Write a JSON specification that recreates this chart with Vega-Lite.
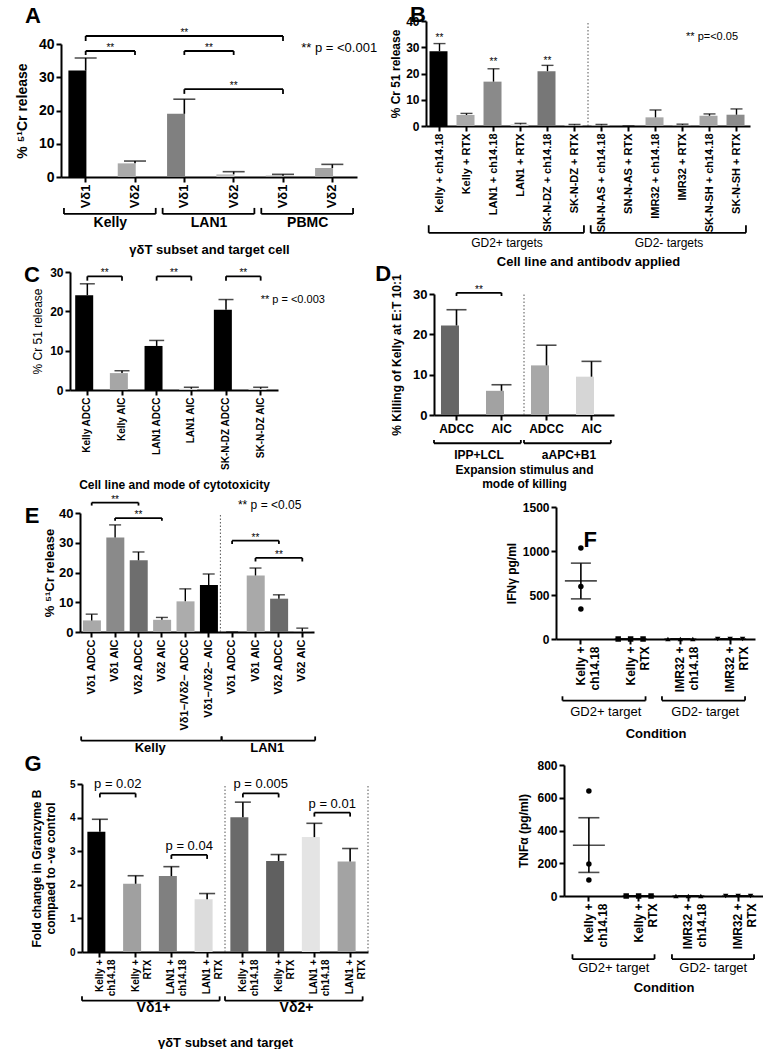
{
"$schema":"https://vega.github.io/schema/vega-lite/v6.json",
"padding":0,
"config":{
 "font":"Liberation Sans",
 "view":{"stroke":null},
 "mark":{"color":"#000"},
 "axis":{"grid":false,"domainColor":"#000","domainWidth":2,"tickColor":"#000","tickWidth":2,"tickSize":5,"labelColor":"#000","titleColor":"#000","labelFontWeight":"bold","titleFontWeight":"bold","labelPadding":2},
 "axisY":{"labelOverlap":false,"labelFlush":false,"tickCount":20},
 "text":{"color":"#000"}
},
"spacing":-10,
"resolve":{"scale":{"color":"independent","shape":"independent"}},
"vconcat":[
{"spacing":0,"resolve":{"scale":{"color":"independent","shape":"independent"}},"hconcat":[
{"width":296,"height":156,"layer":[
 {"data":{"values":[
  {"cat":"Kelly|Vδ1","v":32,"u":35.8},
  {"cat":"Kelly|Vδ2","v":4.1,"u":4.8},
  {"cat":"LAN1|Vδ1","v":19,"u":23.4},
  {"cat":"LAN1|Vδ2","v":0.8,"u":1.6},
  {"cat":"PBMC|Vδ1","v":0.4,"u":0.8},
  {"cat":"PBMC|Vδ2","v":2.7,"u":3.8}]},
  "layer":[
   {"mark":{"type":"bar","width":{"band":0.7}},"encoding":{
     "x":{"field":"cat","type":"nominal","scale":{"domain":["Kelly|Vδ1","Kelly|Vδ2","LAN1|Vδ1","LAN1|Vδ2","PBMC|Vδ1","PBMC|Vδ2"],"paddingInner":0,"paddingOuter":0},"axis":{"labelExpr":"split(datum.value,'|')[1]","labelAngle":-90,"labelFontSize":13,"title":"γδT subset and target cell","titleFontSize":13,"titlePadding":36}},
     "y":{"field":"v","type":"quantitative","scale":{"domain":[0,40],"nice":false,"range":[156,23]},"axis":{"values":[0,10,20,30,40],"tickCount":20,"labelOverlap":false,"labelFontSize":14,"title":"% ⁵¹Cr release","titleFontSize":14,"titlePadding":9}},
     "color":{"field":"cat","type":"nominal","scale":{"domain":["Kelly|Vδ1","Kelly|Vδ2","LAN1|Vδ1","LAN1|Vδ2","PBMC|Vδ1","PBMC|Vδ2"],"range":["#000000","#aaaaaa","#808080","#bdbdbd","#9a9a9a","#a4a4a4"]},"legend":null}}},
   {"mark":{"type":"rule","color":"#000","strokeWidth":1.6},"encoding":{"x":{"field":"cat","type":"nominal"},"y":{"field":"v","type":"quantitative"},"y2":{"field":"u"}}},
   {"mark":{"type":"tick","color":"#000","thickness":1.6,"size":22},"encoding":{"x":{"field":"cat","type":"nominal"},"y":{"field":"u","type":"quantitative"}}}
  ]},
 {"data":{"values":[
  {"a":"Kelly|Vδ1","b":"PBMC|Vδ1","m":"LAN1|Vδ1","y":42.4,"t":40.9,"edge":false},
  {"a":"Kelly|Vδ1","b":"Kelly|Vδ2","m":"Kelly|Vδ2","y":37.9,"t":36.7,"edge":true},
  {"a":"LAN1|Vδ1","b":"LAN1|Vδ2","m":"LAN1|Vδ2","y":37.9,"t":36.7,"edge":true},
  {"a":"LAN1|Vδ1","b":"PBMC|Vδ1","m":"LAN1|Vδ2","y":26.4,"t":25,"edge":false}]},
  "layer":[
   {"mark":{"type":"rule","color":"#000","strokeWidth":1.8},"encoding":{"x":{"field":"a","type":"nominal","bandPosition":0.5},"x2":{"field":"b","bandPosition":0.5},"y":{"field":"y","type":"quantitative"}}},
   {"mark":{"type":"rule","color":"#000","strokeWidth":1.8},"encoding":{"x":{"field":"a","type":"nominal","bandPosition":0.5},"y":{"field":"y","type":"quantitative"},"y2":{"field":"t"}}},
   {"mark":{"type":"rule","color":"#000","strokeWidth":1.8},"encoding":{"x":{"field":"b","type":"nominal","bandPosition":0.5},"y":{"field":"y","type":"quantitative"},"y2":{"field":"t"}}},
   {"transform":[{"filter":"datum.edge"}],"mark":{"type":"text","color":"#000","fontSize":10,"baseline":"alphabetic","align":"center"},"encoding":{"x":{"field":"m","type":"nominal","bandPosition":0},"y":{"field":"y","type":"quantitative"},"text":{"value":"**"}}},
   {"transform":[{"filter":"!datum.edge"}],"mark":{"type":"text","color":"#000","fontSize":10,"baseline":"alphabetic","align":"center"},"encoding":{"x":{"field":"m","type":"nominal","bandPosition":0.5},"y":{"field":"y","type":"quantitative"},"text":{"value":"**"}}}
  ]},
 {"data":{"values":[
  {"g":"Kelly","a":"Kelly|Vδ1","b":"Kelly|Vδ2"},
  {"g":"LAN1","a":"LAN1|Vδ1","b":"LAN1|Vδ2"},
  {"g":"PBMC","a":"PBMC|Vδ1","b":"PBMC|Vδ2"}]},
  "layer":[
   {"mark":{"type":"rule","color":"#000","strokeWidth":1.8},"encoding":{"x":{"field":"a","type":"nominal","bandPosition":0.06},"x2":{"field":"b","bandPosition":0.92},"y":{"datum":-11.1}}},
   {"mark":{"type":"rule","color":"#000","strokeWidth":1.8},"encoding":{"x":{"field":"a","type":"nominal","bandPosition":0.06},"y":{"datum":-11.1},"y2":{"datum":-9.3}}},
   {"mark":{"type":"rule","color":"#000","strokeWidth":1.8},"encoding":{"x":{"field":"b","type":"nominal","bandPosition":0.92},"y":{"datum":-11.1},"y2":{"datum":-9.3}}},
   {"mark":{"type":"text","color":"#000","fontSize":14,"fontWeight":"bold","baseline":"middle"},"encoding":{"x":{"field":"b","type":"nominal","bandPosition":0},"y":{"datum":-13.8},"text":{"field":"g"}}}
  ]},
 {"data":{"values":[{}]},
  "layer":[
   {"mark":{"type":"text","color":"#000","fontSize":22,"fontWeight":"bold","baseline":"middle"},"encoding":{"x":{"datum":"Kelly|Vδ1","type":"nominal","bandPosition":-0.57},"y":{"datum":48.4},"text":{"value":"A"}}},
   {"mark":{"type":"text","color":"#000","fontSize":13,"align":"left","baseline":"middle"},"encoding":{"x":{"datum":"PBMC|Vδ1","type":"nominal","bandPosition":0.87},"y":{"datum":38.8},"text":{"value":"** p = <0.001"}}},
   {"mark":{"type":"point","opacity":0,"size":1},"encoding":{"x":{"datum":"Kelly|Vδ1","type":"nominal","bandPosition":-1.216},"y":{"datum":52.93}}},
   {"mark":{"type":"point","opacity":0,"size":1},"encoding":{"x":{"datum":"Kelly|Vδ1","type":"nominal","bandPosition":-1.216},"y":{"datum":-27.67}}},
   {"mark":{"type":"point","opacity":0,"size":1},"encoding":{"x":{"datum":"Kelly|Vδ1","type":"nominal","bandPosition":6.608},"y":{"datum":52.93}}}
  ]}
]},
{"width":324,"height":105,"layer":[
 {"data":{"values":[
  {"cat":"Kelly + ch14.18","v":28.5,"u":31.4},
  {"cat":"Kelly + RTX","v":4.2,"u":4.8},
  {"cat":"LAN1 + ch14.18","v":16.9,"u":21.8},
  {"cat":"LAN1 + RTX","v":0.6,"u":1.0},
  {"cat":"SK-N-DZ + ch14.18","v":20.9,"u":23.1},
  {"cat":"SK-N-DZ + RTX","v":0.3,"u":0.6},
  {"cat":"SN-N-AS + ch14.18","v":0.3,"u":0.6},
  {"cat":"SN-N-AS + RTX","v":0,"u":0},
  {"cat":"IMR32 + ch14.18","v":3.3,"u":6.1},
  {"cat":"IMR32 + RTX","v":0.4,"u":0.7},
  {"cat":"SK-N-SH + ch14.18","v":3.9,"u":4.6},
  {"cat":"SK-N-SH + RTX","v":4.3,"u":6.5}]},
  "layer":[
   {"mark":{"type":"bar","width":{"band":0.74}},"encoding":{
     "x":{"field":"cat","type":"nominal","scale":{"domain":["Kelly + ch14.18","Kelly + RTX","LAN1 + ch14.18","LAN1 + RTX","SK-N-DZ + ch14.18","SK-N-DZ + RTX","SN-N-AS + ch14.18","SN-N-AS + RTX","IMR32 + ch14.18","IMR32 + RTX","SK-N-SH + ch14.18","SK-N-SH + RTX"],"paddingInner":0,"paddingOuter":0},"axis":{"labelAngle":-90,"labelFontSize":11,"title":"Cell line and antibodv applied","titleFontSize":13,"titlePadding":24}},
     "y":{"field":"v","type":"quantitative","scale":{"domain":[0,40],"nice":false},"axis":{"values":[0,10,20,30,40],"tickCount":20,"labelOverlap":false,"labelFontSize":12,"title":"% Cr 51 release","titleFontSize":12,"titlePadding":3}},
     "color":{"field":"cat","type":"nominal","scale":{"domain":["Kelly + ch14.18","Kelly + RTX","LAN1 + ch14.18","LAN1 + RTX","SK-N-DZ + ch14.18","SK-N-DZ + RTX","SN-N-AS + ch14.18","SN-N-AS + RTX","IMR32 + ch14.18","IMR32 + RTX","SK-N-SH + ch14.18","SK-N-SH + RTX"],"range":["#000000","#a9a9a9","#8a8a8a","#cccccc","#777777","#c8c8c8","#b5b5b5","#bbbbbb","#a8a8a8","#9a9a9a","#a6a6a6","#8c8c8c"]},"legend":null}}},
   {"mark":{"type":"rule","color":"#000","strokeWidth":1.4},"encoding":{"x":{"field":"cat","type":"nominal"},"y":{"field":"v","type":"quantitative"},"y2":{"field":"u"}}},
   {"mark":{"type":"tick","color":"#000","thickness":1.4,"size":12},"encoding":{"x":{"field":"cat","type":"nominal"},"y":{"field":"u","type":"quantitative"}}}
  ]},
 {"data":{"values":[
  {"c":"Kelly + ch14.18","y":32.3},
  {"c":"LAN1 + ch14.18","y":23.2},
  {"c":"SK-N-DZ + ch14.18","y":23.8}]},
  "mark":{"type":"text","color":"#000","fontSize":10,"baseline":"alphabetic","align":"center"},
  "encoding":{"x":{"field":"c","type":"nominal"},"y":{"field":"y","type":"quantitative"},"text":{"value":"**"}}},
 {"data":{"values":[
  {"g":"GD2+ targets","a":"Kelly + ch14.18","b":"SK-N-DZ + RTX","m":"LAN1 + RTX"},
  {"g":"GD2- targets","a":"SN-N-AS + ch14.18","b":"SK-N-SH + RTX","m":"IMR32 + RTX"}]},
  "layer":[
   {"mark":{"type":"rule","color":"#000","strokeWidth":1.8},"encoding":{"x":{"field":"a","type":"nominal","bandPosition":0.1},"x2":{"field":"b","bandPosition":0.85},"y":{"datum":-40.7}}},
   {"mark":{"type":"rule","color":"#000","strokeWidth":1.8},"encoding":{"x":{"field":"a","type":"nominal","bandPosition":0.1},"y":{"datum":-40.7},"y2":{"datum":-37.8}}},
   {"mark":{"type":"rule","color":"#000","strokeWidth":1.8},"encoding":{"x":{"field":"b","type":"nominal","bandPosition":0.85},"y":{"datum":-40.7},"y2":{"datum":-37.8}}},
   {"mark":{"type":"text","color":"#000","fontSize":12,"baseline":"middle"},"encoding":{"x":{"field":"m","type":"nominal","bandPosition":0},"y":{"datum":-44.5},"text":{"field":"g"}}}
  ]},
 {"data":{"values":[{}]},
  "layer":[
   {"mark":{"type":"rule","color":"#555","strokeWidth":1,"strokeDash":[1.5,2]},"encoding":{"x":{"datum":"SN-N-AS + ch14.18","type":"nominal","bandPosition":0},"y":{"datum":0},"y2":{"datum":40}}},
   {"mark":{"type":"text","color":"#000","fontSize":22,"fontWeight":"bold","baseline":"middle"},"encoding":{"x":{"datum":"Kelly + ch14.18","type":"nominal","bandPosition":-0.3},"y":{"datum":42.2},"text":{"value":"B"}}},
   {"mark":{"type":"text","color":"#000","fontSize":11,"align":"left","baseline":"middle"},"encoding":{"x":{"datum":"IMR32 + RTX","type":"nominal","bandPosition":0.63},"y":{"datum":34},"text":{"value":"** p=<0.05"}}},
   {"mark":{"type":"point","opacity":0,"size":1},"encoding":{"x":{"datum":"Kelly + ch14.18","type":"nominal","bandPosition":-1.37},"y":{"datum":47.62}}},
   {"mark":{"type":"point","opacity":0,"size":1},"encoding":{"x":{"datum":"Kelly + ch14.18","type":"nominal","bandPosition":-1.37},"y":{"datum":-54.48}}}
  ]}
]}
]},
{"spacing":0,"resolve":{"scale":{"color":"independent","shape":"independent"}},"hconcat":[
{"width":217,"height":118,"layer":[
 {"data":{"values":[
  {"cat":"Kelly ADCC","v":24.1,"u":27.0},
  {"cat":"Kelly AIC","v":4.3,"u":4.9},
  {"cat":"LAN1 ADCC","v":11.2,"u":12.6},
  {"cat":"LAN1 AIC","v":0.3,"u":0.7},
  {"cat":"SK-N-DZ ADCC","v":20.4,"u":23.0},
  {"cat":"SK-N-DZ AIC","v":0.3,"u":0.7}]},
  "layer":[
   {"mark":{"type":"bar","width":{"band":0.7}},"encoding":{
     "x":{"field":"cat","type":"nominal","scale":{"domain":["Kelly ADCC","Kelly AIC","LAN1 ADCC","LAN1 AIC","SK-N-DZ ADCC","SK-N-DZ AIC"],"paddingInner":0,"paddingOuter":0,"range":[9,217]},"axis":{"labelAngle":-90,"labelFontSize":10,"title":"Cell line and mode of cytotoxicity","titleFontSize":12,"titlePadding":10}},
     "y":{"field":"v","type":"quantitative","scale":{"domain":[0,30],"nice":false},"axis":{"offset":-9,"values":[0,10,20,30],"tickCount":20,"labelOverlap":false,"labelFontSize":12,"title":"% Cr 51 release","titleFontSize":12,"titleFontWeight":"normal","titlePadding":5}},
     "color":{"field":"cat","type":"nominal","scale":{"domain":["Kelly ADCC","Kelly AIC","LAN1 ADCC","LAN1 AIC","SK-N-DZ ADCC","SK-N-DZ AIC"],"range":["#000000","#a6a6a6","#000000","#cccccc","#000000","#cccccc"]},"legend":null}}},
   {"mark":{"type":"rule","color":"#000","strokeWidth":1.5},"encoding":{"x":{"field":"cat","type":"nominal"},"y":{"field":"v","type":"quantitative"},"y2":{"field":"u"}}},
   {"mark":{"type":"tick","color":"#000","thickness":1.5,"size":15},"encoding":{"x":{"field":"cat","type":"nominal"},"y":{"field":"u","type":"quantitative"}}}
  ]},
 {"data":{"values":[
  {"a":"Kelly ADCC","b":"Kelly AIC","y":28.9,"t":27.8},
  {"a":"LAN1 ADCC","b":"LAN1 AIC","y":28.9,"t":27.8},
  {"a":"SK-N-DZ ADCC","b":"SK-N-DZ AIC","y":28.9,"t":27.8}]},
  "layer":[
   {"mark":{"type":"rule","color":"#000","strokeWidth":1.8},"encoding":{"x":{"field":"a","type":"nominal","bandPosition":0.5},"x2":{"field":"b","bandPosition":0.5},"y":{"field":"y","type":"quantitative"}}},
   {"mark":{"type":"rule","color":"#000","strokeWidth":1.8},"encoding":{"x":{"field":"a","type":"nominal","bandPosition":0.5},"y":{"field":"y","type":"quantitative"},"y2":{"field":"t"}}},
   {"mark":{"type":"rule","color":"#000","strokeWidth":1.8},"encoding":{"x":{"field":"b","type":"nominal","bandPosition":0.5},"y":{"field":"y","type":"quantitative"},"y2":{"field":"t"}}},
   {"mark":{"type":"text","color":"#000","fontSize":10,"baseline":"alphabetic","align":"center"},"encoding":{"x":{"field":"b","type":"nominal","bandPosition":0},"y":{"field":"y","type":"quantitative"},"text":{"value":"**"}}}
  ]},
 {"data":{"values":[{}]},
  "layer":[
   {"mark":{"type":"text","color":"#000","fontSize":22,"fontWeight":"bold","baseline":"middle"},"encoding":{"x":{"datum":"Kelly ADCC","type":"nominal","bandPosition":-1.1},"y":{"datum":29.2},"text":{"value":"C"}}},
   {"mark":{"type":"text","color":"#000","fontSize":11,"align":"left","baseline":"middle"},"encoding":{"x":{"datum":"SK-N-DZ AIC","type":"nominal","bandPosition":0.5},"y":{"datum":22.9},"text":{"value":"** p = <0.003"}}},
   {"mark":{"type":"point","opacity":0,"size":1},"encoding":{"x":{"datum":"Kelly ADCC","type":"nominal","bandPosition":-1.99},"y":{"datum":32.8}}},
   {"mark":{"type":"point","opacity":0,"size":1},"encoding":{"x":{"datum":"Kelly ADCC","type":"nominal","bandPosition":-1.99},"y":{"datum":-27.7}}},
   {"mark":{"type":"point","opacity":0,"size":1},"encoding":{"x":{"datum":"Kelly ADCC","type":"nominal","bandPosition":8.624},"y":{"datum":32.8}}}
  ]}
]},
{"width":180,"height":143,"layer":[
 {"data":{"values":[
  {"cat":"IPP+LCL|ADCC","v":22.2,"u":26.1},
  {"cat":"IPP+LCL|AIC","v":6.0,"u":7.5},
  {"cat":"aAPC+B1|ADCC","v":12.3,"u":17.3},
  {"cat":"aAPC+B1|AIC","v":9.5,"u":13.3}]},
  "layer":[
   {"mark":{"type":"bar","width":{"band":0.69}},"encoding":{
     "x":{"field":"cat","type":"nominal","scale":{"domain":["IPP+LCL|ADCC","IPP+LCL|AIC","aAPC+B1|ADCC","aAPC+B1|AIC"],"paddingInner":0,"paddingOuter":0},"axis":{"labelExpr":"split(datum.value,'|')[1]","labelAngle":0,"labelFontSize":12,"labelPadding":3,"title":["Expansion stimulus and","mode of killing"],"titleFontSize":12,"titlePadding":30}},
     "y":{"field":"v","type":"quantitative","scale":{"domain":[0,30],"nice":false,"range":[143,22]},"axis":{"values":[0,10,20,30],"tickCount":20,"labelOverlap":false,"labelFontSize":13,"title":"% Killing of Kelly at E:T 10:1","titleFontSize":12,"titlePadding":9}},
     "color":{"field":"cat","type":"nominal","scale":{"domain":["IPP+LCL|ADCC","IPP+LCL|AIC","aAPC+B1|ADCC","aAPC+B1|AIC"],"range":["#666666","#a2a2a2","#a8a8a8","#d6d6d6"]},"legend":null}}},
   {"mark":{"type":"rule","color":"#000","strokeWidth":1.6},"encoding":{"x":{"field":"cat","type":"nominal"},"y":{"field":"v","type":"quantitative"},"y2":{"field":"u"}}},
   {"mark":{"type":"tick","color":"#000","thickness":1.6,"size":20},"encoding":{"x":{"field":"cat","type":"nominal"},"y":{"field":"u","type":"quantitative"}}}
  ]},
 {"data":{"values":[{"a":"IPP+LCL|ADCC","b":"IPP+LCL|AIC","y":30.3,"t":29.5}]},
  "layer":[
   {"mark":{"type":"rule","color":"#000","strokeWidth":1.8},"encoding":{"x":{"field":"a","type":"nominal","bandPosition":0.5},"x2":{"field":"b","bandPosition":0.5},"y":{"field":"y","type":"quantitative"}}},
   {"mark":{"type":"rule","color":"#000","strokeWidth":1.8},"encoding":{"x":{"field":"a","type":"nominal","bandPosition":0.5},"y":{"field":"y","type":"quantitative"},"y2":{"field":"t"}}},
   {"mark":{"type":"rule","color":"#000","strokeWidth":1.8},"encoding":{"x":{"field":"b","type":"nominal","bandPosition":0.5},"y":{"field":"y","type":"quantitative"},"y2":{"field":"t"}}},
   {"mark":{"type":"text","color":"#000","fontSize":10,"baseline":"alphabetic","align":"center"},"encoding":{"x":{"field":"b","type":"nominal","bandPosition":0},"y":{"field":"y","type":"quantitative"},"text":{"value":"**"}}}
  ]},
 {"data":{"values":[
  {"g":"IPP+LCL","a":"IPP+LCL|ADCC","b":"IPP+LCL|AIC"},
  {"g":"aAPC+B1","a":"aAPC+B1|ADCC","b":"aAPC+B1|AIC"}]},
  "layer":[
   {"mark":{"type":"rule","color":"#000","strokeWidth":1.8},"encoding":{"x":{"field":"a","type":"nominal","bandPosition":0.0},"x2":{"field":"b","bandPosition":0.93},"y":{"datum":-7.0}}},
   {"mark":{"type":"rule","color":"#000","strokeWidth":1.8},"encoding":{"x":{"field":"a","type":"nominal","bandPosition":0.0},"y":{"datum":-7.0},"y2":{"datum":-6.2}}},
   {"mark":{"type":"rule","color":"#000","strokeWidth":1.8},"encoding":{"x":{"field":"b","type":"nominal","bandPosition":0.93},"y":{"datum":-7.0},"y2":{"datum":-6.2}}},
   {"mark":{"type":"text","color":"#000","fontSize":12,"fontWeight":"bold","baseline":"middle"},"encoding":{"x":{"field":"b","type":"nominal","bandPosition":0},"y":{"datum":-9.8},"text":{"field":"g"}}}
  ]},
 {"data":{"values":[{}]},
  "layer":[
   {"mark":{"type":"rule","color":"#555","strokeWidth":1,"strokeDash":[1.5,2]},"encoding":{"x":{"datum":"aAPC+B1|ADCC","type":"nominal","bandPosition":0},"y":{"datum":0},"y2":{"datum":30}}},
   {"mark":{"type":"text","color":"#000","fontSize":22,"fontWeight":"bold","baseline":"middle"},"encoding":{"x":{"datum":"IPP+LCL|ADCC","type":"nominal","bandPosition":-1.13},"y":{"datum":35},"text":{"value":"D"}}},
   {"mark":{"type":"point","opacity":0,"size":1},"encoding":{"x":{"datum":"IPP+LCL|ADCC","type":"nominal","bandPosition":-1.393},"y":{"datum":38.18}}},
   {"mark":{"type":"point","opacity":0,"size":1},"encoding":{"x":{"datum":"IPP+LCL|ADCC","type":"nominal","bandPosition":-1.393},"y":{"datum":-20.83}}}
  ]}
]}
]},
{"spacing":0,"resolve":{"scale":{"color":"independent","shape":"independent"}},"hconcat":[
{"width":253,"height":125,"layer":[
 {"data":{"values":[
  {"cat":"Kelly|Vδ1 ADCC","v":3.9,"u":6.0},
  {"cat":"Kelly|Vδ1 AIC","v":31.8,"u":36.0},
  {"cat":"Kelly|Vδ2 ADCC","v":24.1,"u":26.9},
  {"cat":"Kelly|Vδ2 AIC","v":4.1,"u":4.9},
  {"cat":"Kelly|Vδ1−/Vδ2− ADCC","v":10.3,"u":14.5},
  {"cat":"Kelly|Vδ1−/Vδ2− AIC","v":15.8,"u":19.5},
  {"cat":"LAN1|Vδ1 ADCC","v":0,"u":0},
  {"cat":"LAN1|Vδ1 AIC","v":19.0,"u":21.5},
  {"cat":"LAN1|Vδ2 ADCC","v":11.2,"u":12.5},
  {"cat":"LAN1|Vδ2 AIC","v":0.2,"u":1.3}]},
  "layer":[
   {"mark":{"type":"bar","width":{"band":0.75}},"encoding":{
     "x":{"field":"cat","type":"nominal","scale":{"domain":["Kelly|Vδ1 ADCC","Kelly|Vδ1 AIC","Kelly|Vδ2 ADCC","Kelly|Vδ2 AIC","Kelly|Vδ1−/Vδ2− ADCC","Kelly|Vδ1−/Vδ2− AIC","LAN1|Vδ1 ADCC","LAN1|Vδ1 AIC","LAN1|Vδ2 ADCC","LAN1|Vδ2 AIC"],"paddingInner":0,"paddingOuter":0,"range":[19,253]},"axis":{"labelExpr":"split(datum.value,'|')[1]","labelAngle":-90,"labelFontSize":11,"title":null}},
     "y":{"field":"v","type":"quantitative","scale":{"domain":[0,40],"nice":false,"range":[125,6]},"axis":{"offset":-19,"values":[0,10,20,30,40],"tickCount":20,"labelOverlap":false,"labelFontSize":13,"title":"% ⁵¹Cr release","titleFontSize":13,"titlePadding":2}},
     "color":{"field":"cat","type":"nominal","scale":{"domain":["Kelly|Vδ1 ADCC","Kelly|Vδ1 AIC","Kelly|Vδ2 ADCC","Kelly|Vδ2 AIC","Kelly|Vδ1−/Vδ2− ADCC","Kelly|Vδ1−/Vδ2− AIC","LAN1|Vδ1 ADCC","LAN1|Vδ1 AIC","LAN1|Vδ2 ADCC","LAN1|Vδ2 AIC"],"range":["#a9a9a9","#8a8a8a","#6e6e6e","#a9a9a9","#acacac","#000000","#ffffff","#a9a9a9","#6b6b6b","#9a9a9a"]},"legend":null}}},
   {"mark":{"type":"rule","color":"#000","strokeWidth":1.4},"encoding":{"x":{"field":"cat","type":"nominal"},"y":{"field":"v","type":"quantitative"},"y2":{"field":"u"}}},
   {"mark":{"type":"tick","color":"#000","thickness":1.4,"size":12},"encoding":{"x":{"field":"cat","type":"nominal"},"y":{"field":"u","type":"quantitative"}}}
  ]},
 {"data":{"values":[
  {"a":"Kelly|Vδ1 ADCC","b":"Kelly|Vδ2 ADCC","m":"Kelly|Vδ1 AIC","y":43.5,"t":42.5},
  {"a":"Kelly|Vδ1 AIC","b":"Kelly|Vδ2 AIC","m":"Kelly|Vδ2 ADCC","y":38.3,"t":37.4},
  {"a":"LAN1|Vδ1 ADCC","b":"LAN1|Vδ2 ADCC","m":"LAN1|Vδ1 AIC","y":30.7,"t":29.6},
  {"a":"LAN1|Vδ1 AIC","b":"LAN1|Vδ2 AIC","m":"LAN1|Vδ2 ADCC","y":24.9,"t":23.7}]},
  "layer":[
   {"mark":{"type":"rule","color":"#000","strokeWidth":1.8},"encoding":{"x":{"field":"a","type":"nominal","bandPosition":0.5},"x2":{"field":"b","bandPosition":0.5},"y":{"field":"y","type":"quantitative"}}},
   {"mark":{"type":"rule","color":"#000","strokeWidth":1.8},"encoding":{"x":{"field":"a","type":"nominal","bandPosition":0.5},"y":{"field":"y","type":"quantitative"},"y2":{"field":"t"}}},
   {"mark":{"type":"rule","color":"#000","strokeWidth":1.8},"encoding":{"x":{"field":"b","type":"nominal","bandPosition":0.5},"y":{"field":"y","type":"quantitative"},"y2":{"field":"t"}}},
   {"mark":{"type":"text","color":"#000","fontSize":10,"baseline":"alphabetic","align":"center"},"encoding":{"x":{"field":"m","type":"nominal","bandPosition":0.5},"y":{"field":"y","type":"quantitative"},"text":{"value":"**"}}}
  ]},
 {"data":{"values":[
  {"g":"Kelly","a":"Kelly|Vδ1 ADCC","b":"Kelly|Vδ1−/Vδ2− AIC","m":"Kelly|Vδ2 AIC"},
  {"g":"LAN1","a":"LAN1|Vδ1 ADCC","b":"LAN1|Vδ2 AIC","m":"LAN1|Vδ2 ADCC"}]},
  "layer":[
   {"mark":{"type":"rule","color":"#000","strokeWidth":1.8},"encoding":{"x":{"field":"a","type":"nominal","bandPosition":0.05},"x2":{"field":"b","bandPosition":1.05},"y":{"datum":-36.5}}},
   {"mark":{"type":"rule","color":"#000","strokeWidth":1.8},"encoding":{"x":{"field":"a","type":"nominal","bandPosition":0.05},"y":{"datum":-36.5},"y2":{"datum":-35.1}}},
   {"mark":{"type":"rule","color":"#000","strokeWidth":1.8},"encoding":{"x":{"field":"b","type":"nominal","bandPosition":1.05},"y":{"datum":-36.5},"y2":{"datum":-35.1}}},
   {"mark":{"type":"text","color":"#000","fontSize":13,"fontWeight":"bold","baseline":"middle"},"encoding":{"x":{"field":"m","type":"nominal","bandPosition":0},"y":{"datum":-38.9},"text":{"field":"g"}}}
  ]},
 {"data":{"values":[{}]},
  "layer":[
   {"mark":{"type":"rule","color":"#555","strokeWidth":1,"strokeDash":[1.5,2]},"encoding":{"x":{"datum":"LAN1|Vδ1 ADCC","type":"nominal","bandPosition":0},"y":{"datum":0},"y2":{"datum":40}}},
   {"mark":{"type":"text","color":"#000","fontSize":22,"fontWeight":"bold","baseline":"middle"},"encoding":{"x":{"datum":"Kelly|Vδ1 ADCC","type":"nominal","bandPosition":-2.05},"y":{"datum":39.1},"text":{"value":"E"}}},
   {"mark":{"type":"text","color":"#000","fontSize":12,"align":"left","baseline":"middle"},"encoding":{"x":{"datum":"LAN1|Vδ1 ADCC","type":"nominal","bandPosition":0.75},"y":{"datum":42.8},"text":{"value":"** p = <0.05"}}},
   {"mark":{"type":"point","opacity":0,"size":1},"encoding":{"x":{"datum":"Kelly|Vδ1 ADCC","type":"nominal","bandPosition":-3.376},"y":{"datum":47.39}}},
   {"mark":{"type":"point","opacity":0,"size":1},"encoding":{"x":{"datum":"Kelly|Vδ1 ADCC","type":"nominal","bandPosition":-3.376},"y":{"datum":-43.03}}},
   {"mark":{"type":"point","opacity":0,"size":1},"encoding":{"x":{"datum":"Kelly|Vδ1 ADCC","type":"nominal","bandPosition":17.906},"y":{"datum":47.39}}}
  ]}
]},
{"width":199,"height":132,"layer":[
 {"data":{"values":[
  {"c":"Kelly + ch14.18","mean":660,"lo":456,"hi":862},
  {"c":"Kelly + RTX","mean":0,"lo":0,"hi":0},
  {"c":"IMR32 + ch14.18","mean":0,"lo":0,"hi":0},
  {"c":"IMR32 + RTX","mean":0,"lo":0,"hi":0}]},
  "layer":[
   {"mark":{"type":"tick","color":"#000","thickness":1.6,"size":32},"encoding":{
     "x":{"field":"c","type":"nominal","scale":{"domain":["Kelly + ch14.18","Kelly + RTX","IMR32 + ch14.18","IMR32 + RTX"],"paddingInner":0,"paddingOuter":0},"axis":{"labelExpr":"[split(datum.value,' + ')[0] + ' +', split(datum.value,' + ')[1]]","labelAngle":-90,"labelFontSize":12,"title":"Condition","titleFontSize":13,"titlePadding":36}},
     "y":{"field":"mean","type":"quantitative","scale":{"domain":[0,1500],"nice":false},"axis":{"values":[0,500,1000,1500],"tickCount":20,"labelOverlap":false,"format":"d","labelFontSize":12,"title":"IFNγ pg/ml","titleFontSize":12,"titlePadding":4}}}},
   {"mark":{"type":"rule","color":"#000","strokeWidth":1.6},"encoding":{"x":{"field":"c","type":"nominal"},"y":{"field":"lo","type":"quantitative"},"y2":{"field":"hi"}}},
   {"mark":{"type":"tick","color":"#000","thickness":1.6,"size":20},"encoding":{"x":{"field":"c","type":"nominal"},"y":{"field":"lo","type":"quantitative"}}},
   {"mark":{"type":"tick","color":"#000","thickness":1.6,"size":20},"encoding":{"x":{"field":"c","type":"nominal"},"y":{"field":"hi","type":"quantitative"}}}
  ]},
 {"data":{"values":[
  {"c":"Kelly + ch14.18","rep":1,"v":1033},
  {"c":"Kelly + ch14.18","rep":2,"v":596},
  {"c":"Kelly + ch14.18","rep":3,"v":342},
  {"c":"Kelly + RTX","rep":1,"v":0},
  {"c":"Kelly + RTX","rep":2,"v":0},
  {"c":"Kelly + RTX","rep":3,"v":0},
  {"c":"IMR32 + ch14.18","rep":1,"v":0},
  {"c":"IMR32 + ch14.18","rep":2,"v":0},
  {"c":"IMR32 + ch14.18","rep":3,"v":0},
  {"c":"IMR32 + RTX","rep":1,"v":0},
  {"c":"IMR32 + RTX","rep":2,"v":0},
  {"c":"IMR32 + RTX","rep":3,"v":0}]},
  "layer":[
   {"transform":[{"filter":"datum.c == 'Kelly + ch14.18'"}],"mark":{"type":"point","filled":true,"color":"#000","size":30,"opacity":1},"encoding":{"x":{"field":"c","type":"nominal"},"y":{"field":"v","type":"quantitative"},"shape":{"field":"c","type":"nominal","scale":{"domain":["Kelly + ch14.18","Kelly + RTX","IMR32 + ch14.18","IMR32 + RTX"],"range":["circle","square","triangle-up","triangle-down"]},"legend":null}}},
   {"transform":[{"filter":"datum.c != 'Kelly + ch14.18'"}],"mark":{"type":"point","filled":true,"color":"#000","size":30,"opacity":1},"encoding":{"x":{"field":"c","type":"nominal"},"xOffset":{"field":"rep","type":"nominal","scale":{"paddingInner":0,"paddingOuter":1.73}},"y":{"field":"v","type":"quantitative"},"shape":{"field":"c","type":"nominal","legend":null}}}
  ]},
 {"data":{"values":[
  {"g":"GD2+ target","a":"Kelly + ch14.18","b":"Kelly + RTX"},
  {"g":"GD2- target","a":"IMR32 + ch14.18","b":"IMR32 + RTX"}]},
  "layer":[
   {"mark":{"type":"rule","color":"#000","strokeWidth":1.8},"encoding":{"x":{"field":"a","type":"nominal","bandPosition":0.13},"x2":{"field":"b","bandPosition":0.8},"y":{"datum":-700}}},
   {"mark":{"type":"rule","color":"#000","strokeWidth":1.8},"encoding":{"x":{"field":"a","type":"nominal","bandPosition":0.13},"y":{"datum":-700},"y2":{"datum":-651}}},
   {"mark":{"type":"rule","color":"#000","strokeWidth":1.8},"encoding":{"x":{"field":"b","type":"nominal","bandPosition":0.8},"y":{"datum":-700},"y2":{"datum":-651}}},
   {"mark":{"type":"text","color":"#000","fontSize":13,"baseline":"middle"},"encoding":{"x":{"field":"b","type":"nominal","bandPosition":0},"y":{"datum":-835},"text":{"field":"g"}}}
  ]},
 {"data":{"values":[{}]},
  "layer":[
   {"mark":{"type":"text","color":"#000","fontSize":22,"fontWeight":"bold","baseline":"middle"},"encoding":{"x":{"datum":"Kelly + ch14.18","type":"nominal","bandPosition":0.69},"y":{"datum":1128},"text":{"value":"F"}}},
   {"mark":{"type":"point","opacity":0,"size":1},"encoding":{"x":{"datum":"Kelly + ch14.18","type":"nominal","bandPosition":-1.0995},"y":{"datum":1681.8}}},
   {"mark":{"type":"point","opacity":0,"size":1},"encoding":{"x":{"datum":"Kelly + ch14.18","type":"nominal","bandPosition":-1.0995},"y":{"datum":-1375}}}
  ]}
]}
]},
{"spacing":0,"resolve":{"scale":{"color":"independent","shape":"independent"}},"hconcat":[
{"width":307,"height":187,"layer":[
 {"data":{"values":[
  {"cat":"Vδ1+|Kelly + ch14.18","v":3.58,"u":3.95},
  {"cat":"Vδ1+|Kelly + RTX","v":2.03,"u":2.27},
  {"cat":"Vδ1+|LAN1 + ch14.18","v":2.26,"u":2.54},
  {"cat":"Vδ1+|LAN1 + RTX","v":1.57,"u":1.74},
  {"cat":"Vδ2+|Kelly + ch14.18","v":4.01,"u":4.46},
  {"cat":"Vδ2+|Kelly + RTX","v":2.71,"u":2.9},
  {"cat":"Vδ2+|LAN1 + ch14.18","v":3.42,"u":3.83},
  {"cat":"Vδ2+|LAN1 + RTX","v":2.69,"u":3.08}]},
  "layer":[
   {"mark":{"type":"bar","width":{"band":0.7}},"encoding":{
     "x":{"field":"cat","type":"nominal","scale":{"domain":["Vδ1+|Kelly + ch14.18","Vδ1+|Kelly + RTX","Vδ1+|LAN1 + ch14.18","Vδ1+|LAN1 + RTX","Vδ2+|Kelly + ch14.18","Vδ2+|Kelly + RTX","Vδ2+|LAN1 + ch14.18","Vδ2+|LAN1 + RTX"],"paddingInner":0,"paddingOuter":0,"range":[21,307]},"axis":{"labelExpr":"[split(split(datum.value,'|')[1],' + ')[0] + ' +', split(split(datum.value,'|')[1],' + ')[1]]","labelAngle":-90,"labelFontSize":10,"title":"γδT subset and target","titleFontSize":13,"titlePadding":41}},
     "y":{"field":"v","type":"quantitative","scale":{"domain":[0,5],"nice":false,"range":[187,19]},"axis":{"offset":-21,"values":[0,1,2,3,4,5],"format":"d","tickCount":20,"labelOverlap":false,"labelFontSize":10,"title":["Fold change in Granzyme B","compaed to -ve control"],"titleFontSize":12,"titlePadding":12}},
     "color":{"field":"cat","type":"nominal","scale":{"domain":["Vδ1+|Kelly + ch14.18","Vδ1+|Kelly + RTX","Vδ1+|LAN1 + ch14.18","Vδ1+|LAN1 + RTX","Vδ2+|Kelly + ch14.18","Vδ2+|Kelly + RTX","Vδ2+|LAN1 + ch14.18","Vδ2+|LAN1 + RTX"],"range":["#000000","#a0a0a0","#808080","#dcdcdc","#6a6a6a","#606060","#e4e4e4","#a3a3a3"]},"legend":null}}},
   {"mark":{"type":"rule","color":"#000","strokeWidth":1.6},"encoding":{"x":{"field":"cat","type":"nominal"},"y":{"field":"v","type":"quantitative"},"y2":{"field":"u"}}},
   {"mark":{"type":"tick","color":"#000","thickness":1.6,"size":16},"encoding":{"x":{"field":"cat","type":"nominal"},"y":{"field":"u","type":"quantitative"}}}
  ]},
 {"data":{"values":[
  {"a":"Vδ1+|Kelly + ch14.18","b":"Vδ1+|Kelly + RTX","y":4.72,"t":4.6,"p":"p = 0.02"},
  {"a":"Vδ1+|LAN1 + ch14.18","b":"Vδ1+|LAN1 + RTX","y":2.89,"t":2.77,"p":"p = 0.04"},
  {"a":"Vδ2+|Kelly + ch14.18","b":"Vδ2+|Kelly + RTX","y":4.72,"t":4.6,"p":"p = 0.005"},
  {"a":"Vδ2+|LAN1 + ch14.18","b":"Vδ2+|LAN1 + RTX","y":4.15,"t":4.03,"p":"p = 0.01"}]},
  "layer":[
   {"mark":{"type":"rule","color":"#000","strokeWidth":1.8},"encoding":{"x":{"field":"a","type":"nominal","bandPosition":0.5},"x2":{"field":"b","bandPosition":0.5},"y":{"field":"y","type":"quantitative"}}},
   {"mark":{"type":"rule","color":"#000","strokeWidth":1.8},"encoding":{"x":{"field":"a","type":"nominal","bandPosition":0.5},"y":{"field":"y","type":"quantitative"},"y2":{"field":"t"}}},
   {"mark":{"type":"rule","color":"#000","strokeWidth":1.8},"encoding":{"x":{"field":"b","type":"nominal","bandPosition":0.5},"y":{"field":"y","type":"quantitative"},"y2":{"field":"t"}}},
   {"mark":{"type":"text","color":"#000","fontSize":13,"baseline":"alphabetic","align":"center","dy":-5},"encoding":{"x":{"field":"b","type":"nominal","bandPosition":0},"y":{"field":"y","type":"quantitative"},"text":{"field":"p"}}}
  ]},
 {"data":{"values":[
  {"g":"Vδ1+","a":"Vδ1+|Kelly + ch14.18","b":"Vδ1+|LAN1 + RTX","m":"Vδ1+|LAN1 + ch14.18"},
  {"g":"Vδ2+","a":"Vδ2+|Kelly + ch14.18","b":"Vδ2+|LAN1 + RTX","m":"Vδ2+|LAN1 + ch14.18"}]},
  "layer":[
   {"mark":{"type":"rule","color":"#000","strokeWidth":1.8},"encoding":{"x":{"field":"a","type":"nominal","bandPosition":0.0},"x2":{"field":"b","bandPosition":0.85},"y":{"datum":-1.45}}},
   {"mark":{"type":"rule","color":"#000","strokeWidth":1.8},"encoding":{"x":{"field":"a","type":"nominal","bandPosition":0.0},"y":{"datum":-1.45},"y2":{"datum":-1.32}}},
   {"mark":{"type":"rule","color":"#000","strokeWidth":1.8},"encoding":{"x":{"field":"b","type":"nominal","bandPosition":0.85},"y":{"datum":-1.45},"y2":{"datum":-1.32}}},
   {"mark":{"type":"text","color":"#000","fontSize":14,"fontWeight":"bold","baseline":"middle"},"encoding":{"x":{"field":"m","type":"nominal","bandPosition":0},"y":{"datum":-1.68},"text":{"field":"g"}}}
  ]},
 {"data":{"values":[{}]},
  "layer":[
   {"mark":{"type":"rule","color":"#555","strokeWidth":1,"strokeDash":[1.5,2]},"encoding":{"x":{"datum":"Vδ2+|Kelly + ch14.18","type":"nominal","bandPosition":0},"y":{"datum":0},"y2":{"datum":5}}},
   {"mark":{"type":"rule","color":"#555","strokeWidth":1,"strokeDash":[1.5,2]},"encoding":{"x":{"datum":"Vδ2+|LAN1 + RTX","type":"nominal","bandPosition":1},"y":{"datum":0},"y2":{"datum":5}}},
   {"mark":{"type":"text","color":"#000","fontSize":22,"fontWeight":"bold","baseline":"middle"},"encoding":{"x":{"datum":"Vδ1+|Kelly + ch14.18","type":"nominal","bandPosition":-1.37},"y":{"datum":5.6},"text":{"value":"G"}}},
   {"mark":{"type":"point","opacity":0,"size":1},"encoding":{"x":{"datum":"Vδ1+|Kelly + ch14.18","type":"nominal","bandPosition":-2.266},"y":{"datum":5.952}}},
   {"mark":{"type":"point","opacity":0,"size":1},"encoding":{"x":{"datum":"Vδ1+|Kelly + ch14.18","type":"nominal","bandPosition":-2.266},"y":{"datum":-3.095}}},
   {"mark":{"type":"point","opacity":0,"size":1},"encoding":{"x":{"datum":"Vδ1+|Kelly + ch14.18","type":"nominal","bandPosition":11.944},"y":{"datum":5.952}}}
  ]}
]},
{"width":199,"height":131,"layer":[
 {"data":{"values":[
  {"c":"Kelly + ch14.18","mean":310,"lo":144,"hi":478},
  {"c":"Kelly + RTX","mean":0,"lo":0,"hi":0},
  {"c":"IMR32 + ch14.18","mean":0,"lo":0,"hi":0},
  {"c":"IMR32 + RTX","mean":0,"lo":0,"hi":0}]},
  "layer":[
   {"mark":{"type":"tick","color":"#000","thickness":1.6,"size":32},"encoding":{
     "x":{"field":"c","type":"nominal","scale":{"domain":["Kelly + ch14.18","Kelly + RTX","IMR32 + ch14.18","IMR32 + RTX"],"paddingInner":0,"paddingOuter":0},"axis":{"labelExpr":"[split(datum.value,' + ')[0] + ' +', split(datum.value,' + ')[1]]","labelAngle":-90,"labelFontSize":12,"title":"Condition","titleFontSize":13,"titlePadding":33}},
     "y":{"field":"mean","type":"quantitative","scale":{"domain":[0,800],"nice":false},"axis":{"values":[0,200,400,600,800],"tickCount":20,"labelOverlap":false,"labelFontSize":12,"title":"TNFα (pg/ml)","titleFontSize":12,"titlePadding":6}}}},
   {"mark":{"type":"rule","color":"#000","strokeWidth":1.6},"encoding":{"x":{"field":"c","type":"nominal"},"y":{"field":"lo","type":"quantitative"},"y2":{"field":"hi"}}},
   {"mark":{"type":"tick","color":"#000","thickness":1.6,"size":21},"encoding":{"x":{"field":"c","type":"nominal"},"y":{"field":"lo","type":"quantitative"}}},
   {"mark":{"type":"tick","color":"#000","thickness":1.6,"size":21},"encoding":{"x":{"field":"c","type":"nominal"},"y":{"field":"hi","type":"quantitative"}}}
  ]},
 {"data":{"values":[
  {"c":"Kelly + ch14.18","rep":1,"v":641},
  {"c":"Kelly + ch14.18","rep":2,"v":195},
  {"c":"Kelly + ch14.18","rep":3,"v":98},
  {"c":"Kelly + RTX","rep":1,"v":0},
  {"c":"Kelly + RTX","rep":2,"v":0},
  {"c":"Kelly + RTX","rep":3,"v":0},
  {"c":"IMR32 + ch14.18","rep":1,"v":0},
  {"c":"IMR32 + ch14.18","rep":2,"v":0},
  {"c":"IMR32 + ch14.18","rep":3,"v":0},
  {"c":"IMR32 + RTX","rep":1,"v":0},
  {"c":"IMR32 + RTX","rep":2,"v":0},
  {"c":"IMR32 + RTX","rep":3,"v":0}]},
  "layer":[
   {"transform":[{"filter":"datum.c == 'Kelly + ch14.18'"}],"mark":{"type":"point","filled":true,"color":"#000","size":30,"opacity":1},"encoding":{"x":{"field":"c","type":"nominal"},"y":{"field":"v","type":"quantitative"},"shape":{"field":"c","type":"nominal","scale":{"domain":["Kelly + ch14.18","Kelly + RTX","IMR32 + ch14.18","IMR32 + RTX"],"range":["circle","square","triangle-up","triangle-down"]},"legend":null}}},
   {"transform":[{"filter":"datum.c != 'Kelly + ch14.18'"}],"mark":{"type":"point","filled":true,"color":"#000","size":30,"opacity":1},"encoding":{"x":{"field":"c","type":"nominal"},"xOffset":{"field":"rep","type":"nominal","scale":{"paddingInner":0,"paddingOuter":1.73}},"y":{"field":"v","type":"quantitative"},"shape":{"field":"c","type":"nominal","legend":null}}}
  ]},
 {"data":{"values":[
  {"g":"GD2+ target","a":"Kelly + ch14.18","b":"Kelly + RTX"},
  {"g":"GD2- target","a":"IMR32 + ch14.18","b":"IMR32 + RTX"}]},
  "layer":[
   {"mark":{"type":"rule","color":"#000","strokeWidth":1.8},"encoding":{"x":{"field":"a","type":"nominal","bandPosition":0.17},"x2":{"field":"b","bandPosition":0.82},"y":{"datum":-385}}},
   {"mark":{"type":"rule","color":"#000","strokeWidth":1.8},"encoding":{"x":{"field":"a","type":"nominal","bandPosition":0.17},"y":{"datum":-385},"y2":{"datum":-356}}},
   {"mark":{"type":"rule","color":"#000","strokeWidth":1.8},"encoding":{"x":{"field":"b","type":"nominal","bandPosition":0.82},"y":{"datum":-385},"y2":{"datum":-356}}},
   {"mark":{"type":"text","color":"#000","fontSize":13,"baseline":"middle"},"encoding":{"x":{"field":"b","type":"nominal","bandPosition":0},"y":{"datum":-437},"text":{"field":"g"}}}
  ]},
 {"data":{"values":[{}]},
  "layer":[
   {"mark":{"type":"point","opacity":0,"size":1},"encoding":{"x":{"datum":"Kelly + ch14.18","type":"nominal","bandPosition":-1.059},"y":{"datum":879.4}}},
   {"mark":{"type":"point","opacity":0,"size":1},"encoding":{"x":{"datum":"Kelly + ch14.18","type":"nominal","bandPosition":-1.059},"y":{"datum":-977}}}
  ]}
]}
]}
]
}
